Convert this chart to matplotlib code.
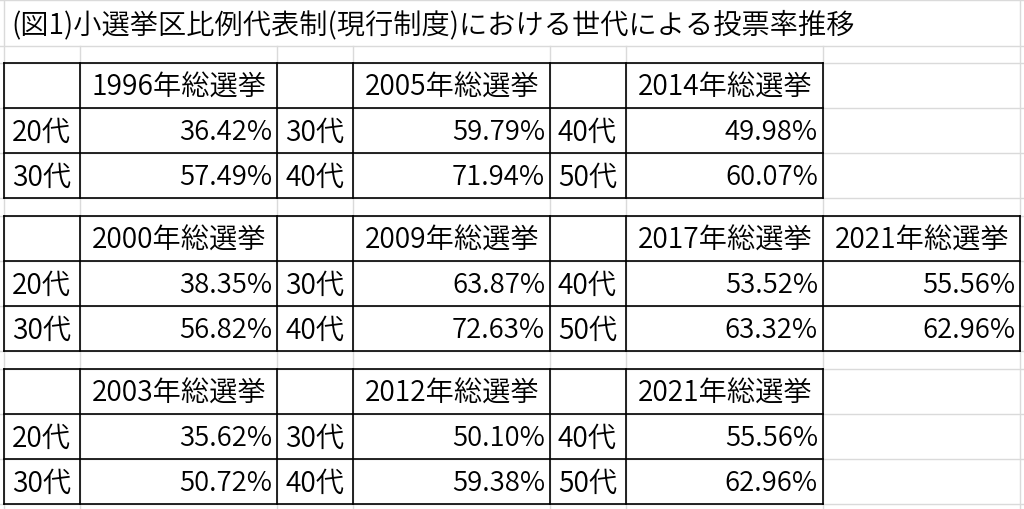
import matplotlib
matplotlib.use("Agg")
import matplotlib.pyplot as plt

plt.rcParams['font.family'] = ['Noto Sans CJK JP', 'DejaVu Sans']

title = "(図1)小選挙区比例代表制(現行制度)における世代による投票率推移"

# each block: elections and the age groups shown next to them
block1_elections = ["1996年総選挙", "2005年総選挙", "2014年総選挙"]
block1_ages = [["20代", "30代"], ["30代", "40代"], ["40代", "50代"]]
block1_values = [[36.42, 57.49], [59.79, 71.94], [49.98, 60.07]]

block2_elections = ["2000年総選挙", "2009年総選挙", "2017年総選挙", "2021年総選挙"]
block2_ages = [["20代", "30代"], ["30代", "40代"], ["40代", "50代"], None]
block2_values = [[38.35, 56.82], [63.87, 72.63], [53.52, 63.32], [55.56, 62.96]]

block3_elections = ["2003年総選挙", "2012年総選挙", "2021年総選挙"]
block3_ages = [["20代", "30代"], ["30代", "40代"], ["40代", "50代"]]
block3_values = [[35.62, 50.72], [50.10, 59.38], [55.56, 62.96]]

blocks = [
    (block1_elections, block1_ages, block1_values),
    (block2_elections, block2_ages, block2_values),
    (block3_elections, block3_ages, block3_values),
]

# sheet layout in pixels
col_edges = [4, 80, 277, 353, 550, 626, 823, 1020]
title_row = (1, 47)
block_tops = [64, 217, 370]
row_h = 45
grid_color = "#dadada"
fs_num = 19.8
fs_text = 20.3
fs_title = 20.3
weight = 350

fig = plt.figure(figsize=(10.24, 5.1), dpi=100)
ax = fig.add_axes([0, 0, 1, 1])
ax.set_xlim(0, 1024)
ax.set_ylim(510, 0)
ax.axis("off")

# light sheet gridlines
row_edges = [title_row[0], title_row[1]]
for top in block_tops:
    row_edges += [top + i * row_h for i in range(4)]
for y in row_edges:
    ax.plot([0, 1024], [y, y], color=grid_color, lw=1.0, zorder=1)
for x in col_edges:
    if x in (col_edges[0], col_edges[-1]):
        ax.plot([x, x], [0, 510], color=grid_color, lw=1.0, zorder=1)
    else:
        ax.plot([x, x], [title_row[1], 510], color=grid_color, lw=1.0, zorder=1)

# title
ax.text(col_edges[0] + 7, (title_row[0] + title_row[1]) / 2 + 1, title,
        fontsize=fs_title, fontweight=weight, va="center", ha="left", zorder=3)


def draw_block(top, elections, ages, values):
    ncols = 2 * len(elections) if ages[-1] is not None else 2 * len(elections) - 1
    left = col_edges[0]
    right = col_edges[ncols]
    # black borders
    for i in range(4):
        y = top + i * row_h
        ax.plot([left, right], [y, y], color="black", lw=1.2, zorder=2)
    col = 0
    for k, name in enumerate(elections):
        if ages[k] is not None:
            age_l = col_edges[col]
            col += 1
            ax.plot([age_l, age_l], [top, top + 3 * row_h], color="black", lw=1.2, zorder=2)
            for r, age in enumerate(ages[k]):
                yc = top + (r + 1.5) * row_h + 1
                ax.text(age_l + 8, yc, age, fontsize=fs_text, fontweight=weight,
                        ha="left", va="center", zorder=3)
        val_l, val_r = col_edges[col], col_edges[col + 1]
        col += 1
        ax.plot([val_l, val_l], [top, top + 3 * row_h], color="black", lw=1.2, zorder=2)
        ax.text((val_l + val_r) / 2 + 1, top + 0.5 * row_h + 1, name, fontsize=fs_text,
                fontweight=weight, ha="center", va="center", zorder=3)
        for r, v in enumerate(values[k]):
            yc = top + (r + 1.5) * row_h + 1
            ax.text(val_r - 5, yc, f"{v:.2f}%", fontsize=fs_num, fontweight=weight,
                    ha="right", va="center", zorder=3)
    ax.plot([right, right], [top, top + 3 * row_h], color="black", lw=1.2, zorder=2)


for top, (elections, ages, values) in zip(block_tops, blocks):
    draw_block(top, elections, ages, values)

fig.savefig("out.png", dpi=100, facecolor="white")
